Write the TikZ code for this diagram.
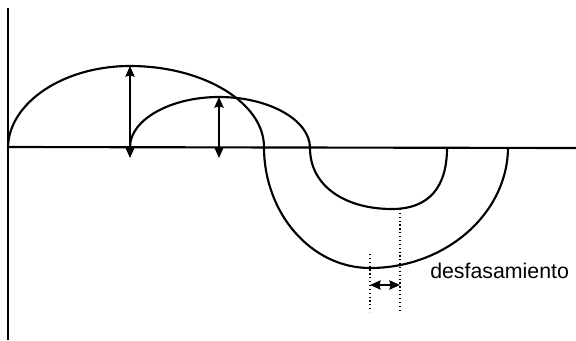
\documentclass[tikz,border=0pt]{standalone}
\usepackage{fontspec}
\setmainfont{Liberation Sans}
\usetikzlibrary{arrows.meta}
\tikzstyle{axis} = [
    line width=1.6pt,
    draw=black
]
\tikzstyle{wave} = [
    line width=1.6pt,
    draw=black
]
\tikzstyle{arrow} = [line width=1.2pt,<->,>={Stealth[length=8pt,width=7pt,inset=1pt]}]
\tikzstyle{guide} = [line width=0.9pt,dotted]
\tikzstyle{label} = [
    font=\fontsize{16}{18}\selectfont,
    inner sep=0pt,
    anchor=base west
]

\begin{document}
\begin{tikzpicture}[x=0.75pt, y=-0.75pt]

\useasboundingbox (0,0) rectangle (576,340);

% axes
\coordinate (origin) at (8,147);
\coordinate (ytop) at (8,8);
\coordinate (ybottom) at (8,340);
\coordinate (xend) at (576,148);
\draw [axis] (ytop) -- (ybottom);
\draw [axis] (origin) -- (xend);

% big wave
\draw [wave] (origin)
    .. controls (9,103) and (63,66) .. (130,66)
    .. controls (204,66) and (264,103) .. (264,147)
    .. controls (264,213) and (311,268) .. (370,268)
    .. controls (446,268) and (508,213) .. (508,147);

% small wave
\draw [wave] (130,147)
    .. controls (130,120) and (170,97) .. (219,97)
    .. controls (269,97) and (310,120) .. (310,148)
    .. controls (310,186) and (345,209) .. (392,209)
    .. controls (430,209) and (447,186) .. (447,148);

% amplitudes
\coordinate (bigtop) at (130,66);
\coordinate (bigbase) at (130,158);
\coordinate (smalltop) at (219,97);
\coordinate (smallbase) at (219,158);
\draw [arrow] (bigbase) -- (bigtop);
\draw [arrow] (smallbase) -- (smalltop);

% phase shift
\coordinate (bigmin) at (370,254);
\coordinate (bigfoot) at (370,312);
\coordinate (smallmin) at (400,209);
\coordinate (smallfoot) at (400,313);
\draw [guide] (bigmin) -- (bigfoot);
\draw [guide] (smallmin) -- (smallfoot);
\coordinate (shiftleft) at (370,285);
\coordinate (shiftright) at (400,285);
\draw [arrow] (shiftleft) -- (shiftright);

\node (shift) [label] at (430,278) {desfasamiento};

\end{tikzpicture}
\end{document}
